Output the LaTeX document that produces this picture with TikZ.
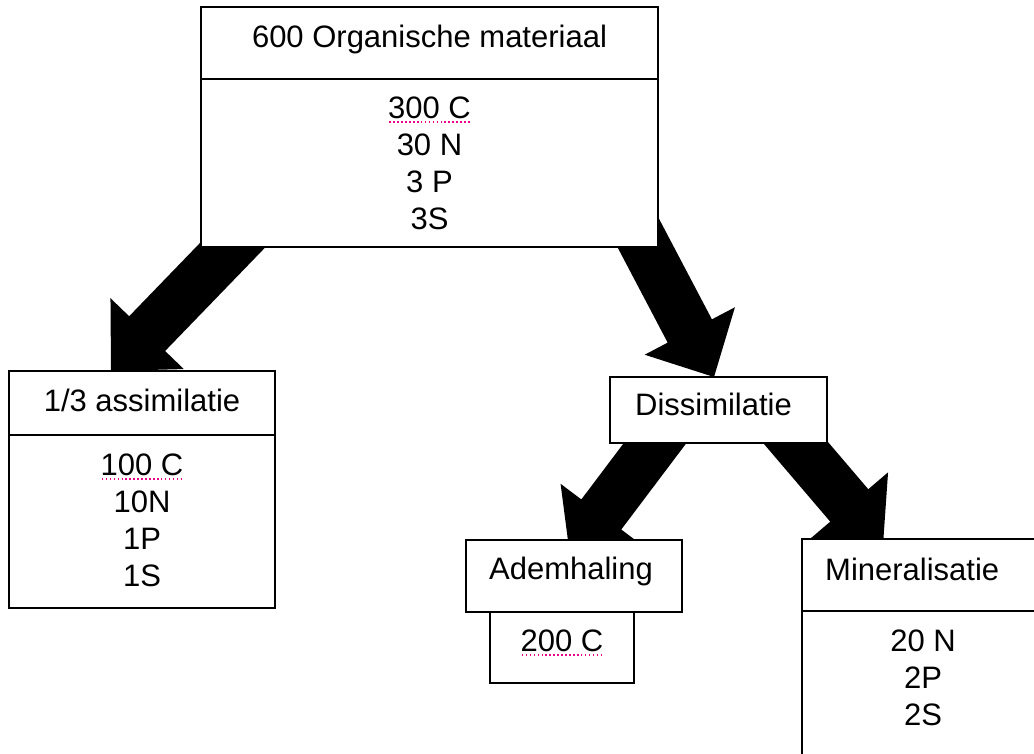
\documentclass[tikz,border=0pt]{standalone}
\usepackage{fontspec}
\setmainfont{Liberation Sans}
\usetikzlibrary{calc,backgrounds}

% stippellijn van de spellingcontrole
\newlength\spelbreedte
\newcommand{\spelfout}[1]{\settowidth{\spelbreedte}{#1}%
  \rlap{\color{magenta}\raisebox{-4pt}{\hbox to\spelbreedte{\xleaders\hbox to 3.8pt{\hss\rule{1.6pt}{1.6pt}\hss}\hfill}}}#1}

% dikke blokpijl van #1 naar #2
\newcommand{\blokpijl}[2]{%
  \coordinate (pijlkop) at ($(#2)!52pt!(#1)$);
  \fill ($(#1)!25pt!90:(#2)$) -- ($(pijlkop)!25pt!90:(#2)$) -- ($(pijlkop)!51pt!90:(#2)$) -- (#2)
    -- ($(pijlkop)!51pt!-90:(#2)$) -- ($(pijlkop)!25pt!-90:(#2)$) -- ($(#1)!25pt!-90:(#2)$) -- cycle;}

\begin{document}
\begin{tikzpicture}[x=1pt, y=-1pt, font=\fontsize{31}{37}\selectfont,
    vak/.style={draw, line width=1.6pt, fill=white, inner sep=0pt, outer sep=0pt, anchor=north west},
    tekst/.style={inner sep=0pt, anchor=north, align=center}]
    \clip (0,0) rectangle (1034,753);
    % organisch materiaal
    \node[vak, minimum width=457pt, minimum height=72pt] (orgkop) at (201,7) {};
    \node[vak, minimum width=457pt, minimum height=168pt] (org) at (orgkop.south west) {};
    \node[tekst] (orgtitel) at ($(orgkop.north)+(0,18)$) {600 Organische materiaal};
    \node[tekst] (orgdata) at ($(org.north)+(0,18)$) {\spelfout{300 C}\\30 N\\3 P\\3S};
    % assimilatie
    \node[vak, minimum width=266pt, minimum height=64pt] (assimkop) at (9,371) {};
    \node[vak, minimum width=266pt, minimum height=173pt] (assim) at (assimkop.south west) {};
    \node[tekst] (assimtitel) at ($(assimkop.north)+(0,18)$) {1/3 assimilatie};
    \node[tekst] (assimdata) at ($(assim.north)+(0,19)$) {\spelfout{100 C}\\10N\\1P\\1S};
    % dissimilatie
    \node[vak, minimum width=217pt, minimum height=66pt] (dis) at (610,377) {};
    \node[tekst] (distitel) at ($(dis.north)+(-5,16)$) {Dissimilatie};
    % ademhaling
    \node[vak, minimum width=144pt, minimum height=71pt] (adem) at (490,612) {};
    \node[vak, minimum width=216pt, minimum height=72pt] (ademkop) at (466,540) {};
    \node[tekst] (ademtitel) at ($(ademkop.north)+(-3,17)$) {Ademhaling};
    \node[tekst] (ademdata) at ($(adem.north)+(0,18)$) {\spelfout{200 C}};
    % mineralisatie
    \node[vak, minimum width=242pt, minimum height=72pt] (minkop) at (802,539) {};
    \node[vak, minimum width=242pt, minimum height=200pt] (mineraal) at (minkop.south west) {};
    \node[tekst, anchor=north west] (mintitel) at ($(minkop.north west)+(23,19)$) {Mineralisatie};
    \node[tekst] (mindata) at ($(mineraal.north)+(0,19)$) {20 N\\2P\\2S};

    % pijlen
    \coordinate (p1s) at ($(org.south west)+(55,-26)$);
    \coordinate (p1e) at ($(assimkop.north west)+(102,0)$);
    \coordinate (p2s) at ($(org.south east)+(-35,-43)$);
    \coordinate (p2e) at ($(dis.north west)+(104,0)$);
    \coordinate (p3s) at ($(dis.south west)+(64,-25)$);
    \coordinate (p3e) at ($(ademkop.north west)+(104,16)$);
    \coordinate (p4s) at ($(dis.south east)+(-66,-41)$);
    \coordinate (p4e) at ($(minkop.north west)+(81,6)$);
    \begin{scope}[on background layer]
        \blokpijl{p1s}{p1e}
        \blokpijl{p2s}{p2e}
        \blokpijl{p3s}{p3e}
        \blokpijl{p4s}{p4e}
    \end{scope}
\end{tikzpicture}
\end{document}
